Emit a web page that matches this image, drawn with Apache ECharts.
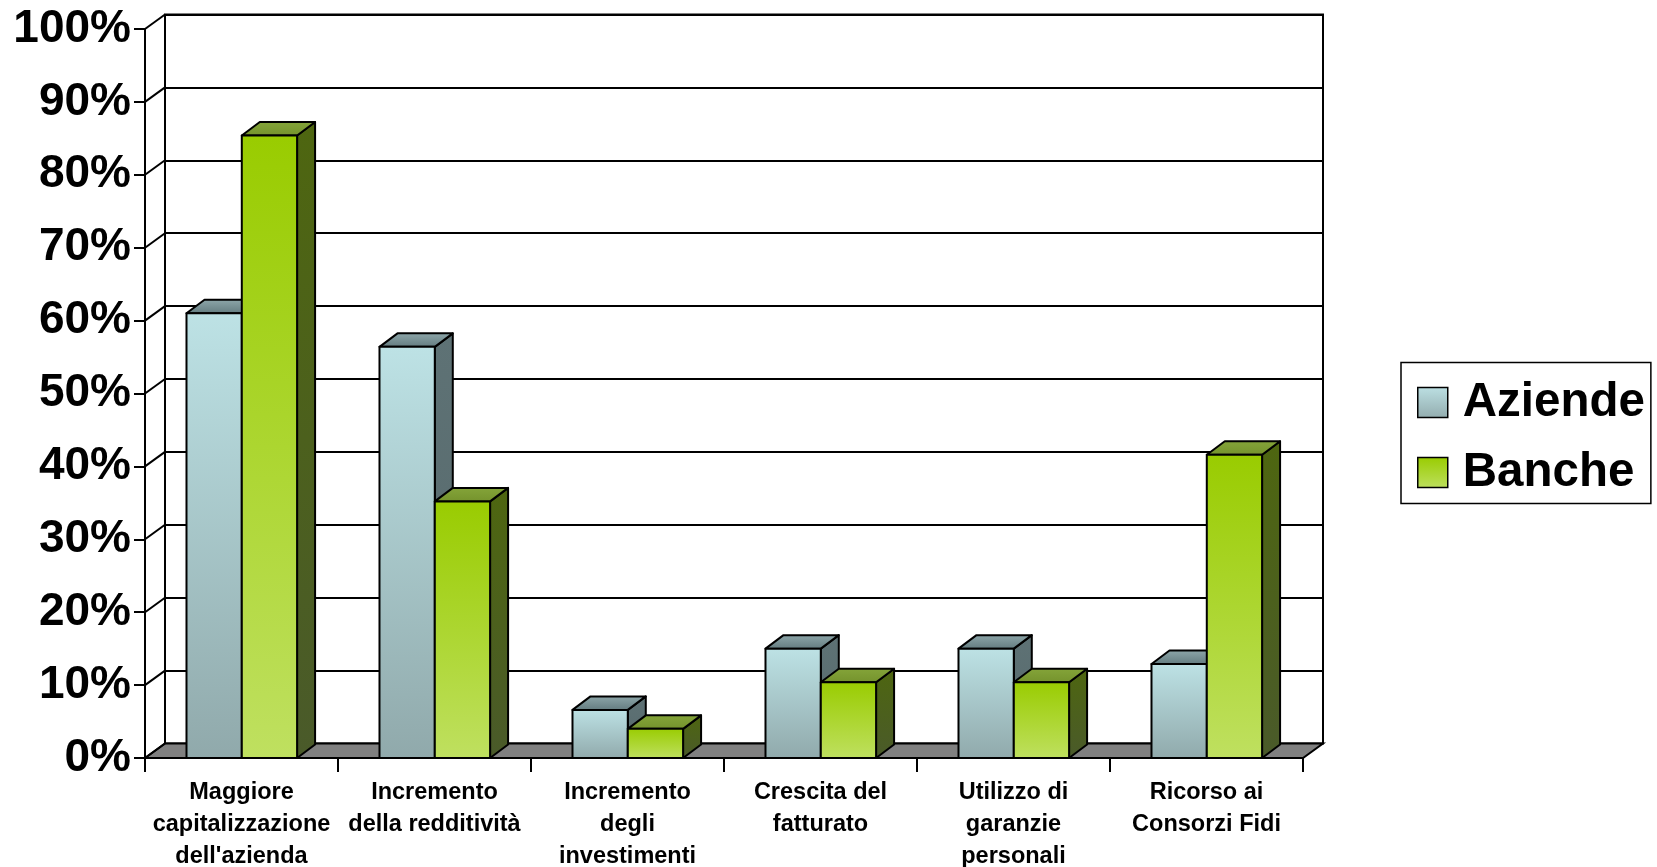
<!DOCTYPE html>
<html><head><meta charset="utf-8">
<script src="https://cdn.jsdelivr.net/npm/echarts@6/dist/echarts.min.js"></script>
<style>html,body{margin:0;padding:0;background:#fff}#c{width:1657px;height:867px}</style>
</head><body><div id="c"></div>
<script>
// ---- data ----
const categories = [
  "Maggiore\ncapitalizzazione\ndell'azienda",
  "Incremento\ndella redditività",
  "Incremento\ndegli\ninvestimenti",
  "Crescita del\nfatturato",
  "Utilizzo di\ngaranzie\npersonali",
  "Ricorso ai\nConsorzi Fidi"
];
const seriesNames = ["Aziende", "Banche"];
const aziende = [61, 56.4, 6.6, 15, 15, 12.9];
const banche = [85.4, 35.2, 4, 10.4, 10.4, 41.6];
const yTicks = [0, 10, 20, 30, 40, 50, 60, 70, 80, 90, 100];

// ---- style / geometry ----
const FONT = '"Liberation Sans", Arial, sans-serif';
const WALL_DX = 20, WALL_DY = -14.5;
const BAR_DX = 18, BAR_DY = -13.5;
const BAR_W = 0.2865, GROUP_OFF = 0.285;

const looks = [
  { front: ['#BDE2E5', '#90A9AB'], side: ['#5E7275', '#56686B'], top: ['#8FA8AB', '#627A7E'] },
  { front: ['#99CC00', '#BFE060'], side: ['#4E6610', '#4A5A2A'], top: ['#85A53A', '#74922C'] }
];
function grad(c) {
  return { type: 'linear', x: 0, y: 0, x2: 0, y2: 1, colorStops: [{ offset: 0, color: c[0] }, { offset: 1, color: c[1] }] };
}

function barRender(sIdx) {
  const lk = looks[sIdx];
  return function (params, api) {
    const i = api.value(0), v = api.value(1);
    const base = api.coord([i, 0]);
    const peak = api.coord([i, v]);
    const band = api.size([1, 0])[0];
    const w = band * BAR_W;
    const x = base[0] - band * GROUP_OFF + sIdx * w;
    const y0 = base[1], y1 = peak[1];
    const st = { stroke: '#000', lineWidth: 2, lineJoin: 'round' };
    return {
      type: 'group',
      children: [
        { type: 'polygon', shape: { points: [[x + w, y1], [x + w + BAR_DX, y1 + BAR_DY], [x + w + BAR_DX, y0 + BAR_DY], [x + w, y0]] },
          style: Object.assign({ fill: grad(lk.side) }, st) },
        { type: 'polygon', shape: { points: [[x, y1], [x + BAR_DX, y1 + BAR_DY], [x + w + BAR_DX, y1 + BAR_DY], [x + w, y1]] },
          style: Object.assign({ fill: grad(lk.top) }, st) },
        { type: 'rect', shape: { x: x, y: y1, width: w, height: y0 - y1 },
          style: Object.assign({ fill: grad(lk.front) }, st) }
      ]
    };
  };
}

const chart = echarts.init(document.getElementById('c'), null, { renderer: 'canvas' });
chart.setOption({
  animation: false,
  backgroundColor: '#ffffff',
  grid: [
    { left: 145, top: 29, width: 1158, height: 729, show: false, containLabel: false, outerBoundsMode: 'none' },
    { left: 165, top: 14.5, width: 1158, height: 729, show: true, backgroundColor: 'transparent',
      borderColor: '#000', borderWidth: 2, containLabel: false, outerBoundsMode: 'none' }
  ],
  xAxis: [
    { type: 'category', gridIndex: 0, data: categories,
      axisLine: { show: true, lineStyle: { color: '#000', width: 2 } },
      axisTick: { show: true, length: 14, lineStyle: { color: '#000', width: 2 } },
      axisLabel: { interval: 0, margin: 19, color: '#000', fontSize: 23.5, fontWeight: 'bold', fontFamily: FONT, lineHeight: 31.7, align: 'center' },
      splitLine: { show: false } },
    { type: 'category', gridIndex: 1, data: categories, show: false }
  ],
  yAxis: [
    { type: 'value', gridIndex: 0, min: 0, max: 100, interval: 10,
      axisLine: { show: true, lineStyle: { color: '#000', width: 2 } },
      axisTick: { show: true, length: 11, lineStyle: { color: '#000', width: 2 } },
      axisLabel: { formatter: '{value}%', margin: 14, color: '#000', fontSize: 46, fontWeight: 'bold', fontFamily: FONT },
      splitLine: { show: false } },
    { type: 'value', gridIndex: 1, min: 0, max: 100, interval: 10,
      axisLine: { show: false }, axisTick: { show: false }, axisLabel: { show: false },
      splitLine: { show: true, lineStyle: { color: '#000', width: 2 } } }
  ],
  legend: {
    orient: 'vertical', left: 1401, top: 362.5,
    borderColor: '#000', borderWidth: 1.5, padding: [15, 6, 6, 16],
    itemWidth: 30, itemHeight: 30, itemGap: 20, selectedMode: false,
    textStyle: { fontSize: 47.5, fontWeight: 'bold', color: '#000', fontFamily: FONT, lineHeight: 44, padding: [6, 0, 0, 10] },
    data: seriesNames.map((n, k) => ({ name: n, icon: 'rect',
      itemStyle: { color: grad(k === 0 ? ['#BCE0E3', '#93ACAE'] : ['#99CC00', '#BDDF5E']), borderColor: '#000', borderWidth: 1.5 } }))
  },
  series: [
    { type: 'custom', name: 'floor', xAxisIndex: 0, yAxisIndex: 0, silent: true, z: 1,
      data: [[0, 0]],
      renderItem: function (params, api) {
        const cs = params.coordSys;
        const yb = cs.y + cs.height, xl = cs.x, xr = cs.x + cs.width;
        return { type: 'polygon',
          shape: { points: [[xl, yb], [xl + WALL_DX, yb + WALL_DY], [xr + WALL_DX, yb + WALL_DY], [xr, yb]] },
          style: { fill: '#808080', stroke: '#000', lineWidth: 2 } };
      } },
    { type: 'custom', name: 'depth', xAxisIndex: 0, yAxisIndex: 0, silent: true, z: 1,
      data: yTicks.map(v => [0, v]),
      renderItem: function (params, api) {
        const cs = params.coordSys;
        const y = api.coord([0, api.value(1)])[1];
        return { type: 'line', shape: { x1: cs.x, y1: y, x2: cs.x + WALL_DX, y2: y + WALL_DY },
          style: { stroke: '#000', lineWidth: 2 } };
      } },
    { type: 'custom', name: seriesNames[0], xAxisIndex: 0, yAxisIndex: 0, z: 3,
      itemStyle: { color: '#BCE0E3' },
      data: aziende.map((v, i) => [i, v]), renderItem: barRender(0) },
    { type: 'custom', name: seriesNames[1], xAxisIndex: 0, yAxisIndex: 0, z: 4,
      itemStyle: { color: '#99CC00' },
      data: banche.map((v, i) => [i, v]), renderItem: barRender(1) }
  ]
});
</script>
</body></html>
